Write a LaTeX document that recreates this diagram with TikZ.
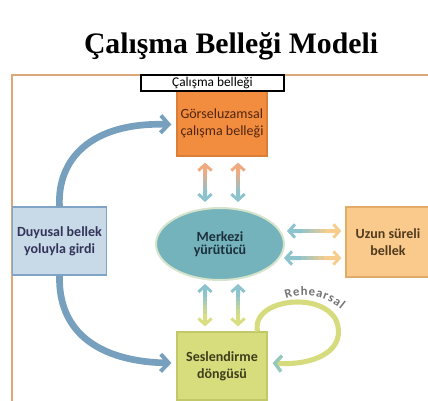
\documentclass[tikz,border=0pt]{standalone}
\usepackage{fontspec}
\setmainfont{Liberation Serif}
\newfontfamily\calib{Carlito}
\usetikzlibrary{arrows.meta}
\usetikzlibrary{calc}
\usetikzlibrary{shapes.geometric}
\usetikzlibrary{decorations.text}

\definecolor{frameTan}{RGB}{220,168,122}
\definecolor{visuoOrange}{RGB}{242,140,62}
\definecolor{centralTeal}{RGB}{116,178,188}
\definecolor{centralEdge}{RGB}{214,228,204}
\definecolor{sensoryBlue}{RGB}{200,218,232}
\definecolor{sensoryEdge}{RGB}{128,164,198}
\definecolor{ltmOrange}{RGB}{250,202,140}
\definecolor{ltmEdge}{RGB}{226,172,104}
\definecolor{phonoGreen}{RGB}{215,220,125}
\definecolor{phonoEdge}{RGB}{192,200,104}
\definecolor{curveBlue}{RGB}{118,160,190}
\definecolor{arrOrange}{RGB}{240,170,130}
\definecolor{arrTeal}{RGB}{140,195,205}
\definecolor{arrPeach}{RGB}{246,205,140}
\definecolor{arrLime}{RGB}{218,222,130}
\definecolor{loopLime}{RGB}{214,219,126}
\definecolor{loopTeal}{RGB}{150,200,186}
\definecolor{rehearsalGray}{RGB}{115,115,115}

\tikzset{
  barb/.tip={Straight Barb[length=4.5pt,width=10pt,line width=2.2pt]},
  bigbarb/.tip={Straight Barb[length=6pt,width=13pt,line width=3pt]},
  bodytext/.style={font=\calib\fontsize{10.5}{12.75}\selectfont},
  membox/.style={rectangle,bodytext,align=center,line width=0.9pt},
  link/.style={line width=3pt,line cap=butt},
  curve/.style={curveBlue,line width=5pt,-bigbarb},
  loopline/.style={loopLime,line width=3.8pt,-{Straight Barb[length=5pt,width=12pt,line width=2.6pt,color=loopTeal]}}
}

% double arrow shaded from #3 (at #1) to #4 (at #2)
\newcommand{\gradlink}[4]{%
  \draw[link,#3,barb-] (#1) -- ($(#1)!0.3!(#2)$);
  \draw[link,#4,-barb] ($(#1)!0.7!(#2)$) -- (#2);
  \foreach \k in {0,...,5}{%
    \pgfmathtruncatemacro{\mixv}{100-\k*20}
    \draw[link,color=#3!\mixv!#4] ($(#1)!0.2+\k*0.1!(#2)$) -- ($(#1)!0.3+\k*0.1!(#2)$);
  }%
}

\begin{document}
\begin{tikzpicture}[x=0.75pt,y=0.75pt,yscale=-1,xscale=1]
\useasboundingbox (0,0) rectangle (428,400);

% Text Node
\node[font=\fontsize{22.3}{24}\selectfont\bfseries] (title) at (231,46) {Çalışma Belleği Modeli};

%Shape: outer frame
\draw[frameTan,line width=1.5pt] (12,404) -- (12,75) -- (440,75);

%Shape: memory boxes
\node[membox,fill=sensoryBlue,draw=sensoryEdge,minimum width=69.75pt,minimum height=51pt,text=black!75!blue!60!gray,font=\calib\bfseries\fontsize{10.5}{12.75}\selectfont] (sensory) at (59.5,241) {Duyusal bellek\\yoluyla girdi};
\node[membox,fill=ltmOrange,draw=ltmEdge,minimum width=63pt,minimum height=52.5pt,text={rgb,255:red,80;green,58;blue,30},font=\calib\bfseries\fontsize{10.5}{12.75}\selectfont] (ltm) at (388,242) {Uzun süreli\\bellek};
\node[membox,fill=visuoOrange,draw=visuoOrange!90!black,minimum width=67.5pt,minimum height=48.75pt,inner xsep=1pt,align=left,text={rgb,255:red,80;green,38;blue,16}] (visuo) at (222,123.5) {Görseluzamsal\\çalışma belleği};
\node[membox,fill=white,draw=black,minimum width=107.25pt,minimum height=12pt,inner sep=0pt,font=\calib\fontsize{10}{12}\selectfont] (wmlabel) at (212.5,83) {Çalışma belleği};
\node[membox,fill=phonoGreen,draw=phonoEdge,minimum width=67.5pt,minimum height=51pt,text={rgb,255:red,62;green,62;blue,28},font=\calib\bfseries\fontsize{10.5}{12.75}\selectfont] (phono) at (222,366) {Seslendirme\\döngüsü};
%Shape: Ellipse
\node[ellipse,fill=centralTeal,draw=centralEdge,line width=1.5pt,minimum width=96pt,minimum height=54pt,align=center,text={rgb,255:red,28;green,48;blue,60},font=\calib\bfseries\fontsize{10.5}{10}\selectfont] (central) at (220,244) {Merkezi\\yürütücü};

%Straight Lines: end points of the double arrows
\coordinate (va1) at ($(visuo.south)+(-17,6)$);
\coordinate (ca1) at ($(central.north)+(-15,-5)$);
\coordinate (va2) at ($(visuo.south)+(16,6)$);
\coordinate (ca2) at ($(central.north)+(18,-5)$);
\coordinate (cb1) at ($(central.south)+(-15,3)$);
\coordinate (pb1) at ($(phono.north)+(-17,-5)$);
\coordinate (cb2) at ($(central.south)+(18,3)$);
\coordinate (pb2) at ($(phono.north)+(16,-5)$);
\coordinate (ce1) at ($(central.east)+(2,-13)$);
\coordinate (le1) at ($(ltm.west)+(-4,-11)$);
\coordinate (ce2) at ($(central.east)+(-1,14)$);
\coordinate (le2) at ($(ltm.west)+(-4,16)$);

\gradlink{va1}{ca1}{arrOrange}{arrTeal}
\gradlink{va2}{ca2}{arrOrange}{arrTeal}
\gradlink{cb1}{pb1}{arrTeal}{arrLime}
\gradlink{cb2}{pb2}{arrTeal}{arrLime}
\gradlink{ce1}{le1}{arrTeal}{arrPeach}
\gradlink{ce2}{le2}{arrTeal}{arrPeach}

%Curve Lines
\draw[curve] (sensory.north) .. controls (57,160) and (90,122) .. ($(visuo.west)+(-5,1)$);
\draw[curve] (sensory.south) .. controls (58,340) and (110,362) .. ($(phono.west)+(-5,-3)$);

%Curve Lines: rehearsal loop
\coordinate (rs) at ($(phono.north east)+(-10,0)$);
\coordinate (re) at ($(phono.east)+(5,-3)$);
\draw[loopline] (rs) .. controls (250,300) and (320,290) .. (336,320) .. controls (348,350) and (315,366) .. (re);

% Text Node
\path[decorate,decoration={text along path,text align=fit to path,
  text={|\calib\bfseries\fontsize{9.5}{9.5}\selectfont\color{rehearsalGray}|Rehearsal}}]
  (286,299) .. controls (305,293) and (324,295) .. (341,309);
\end{tikzpicture}
\end{document}
